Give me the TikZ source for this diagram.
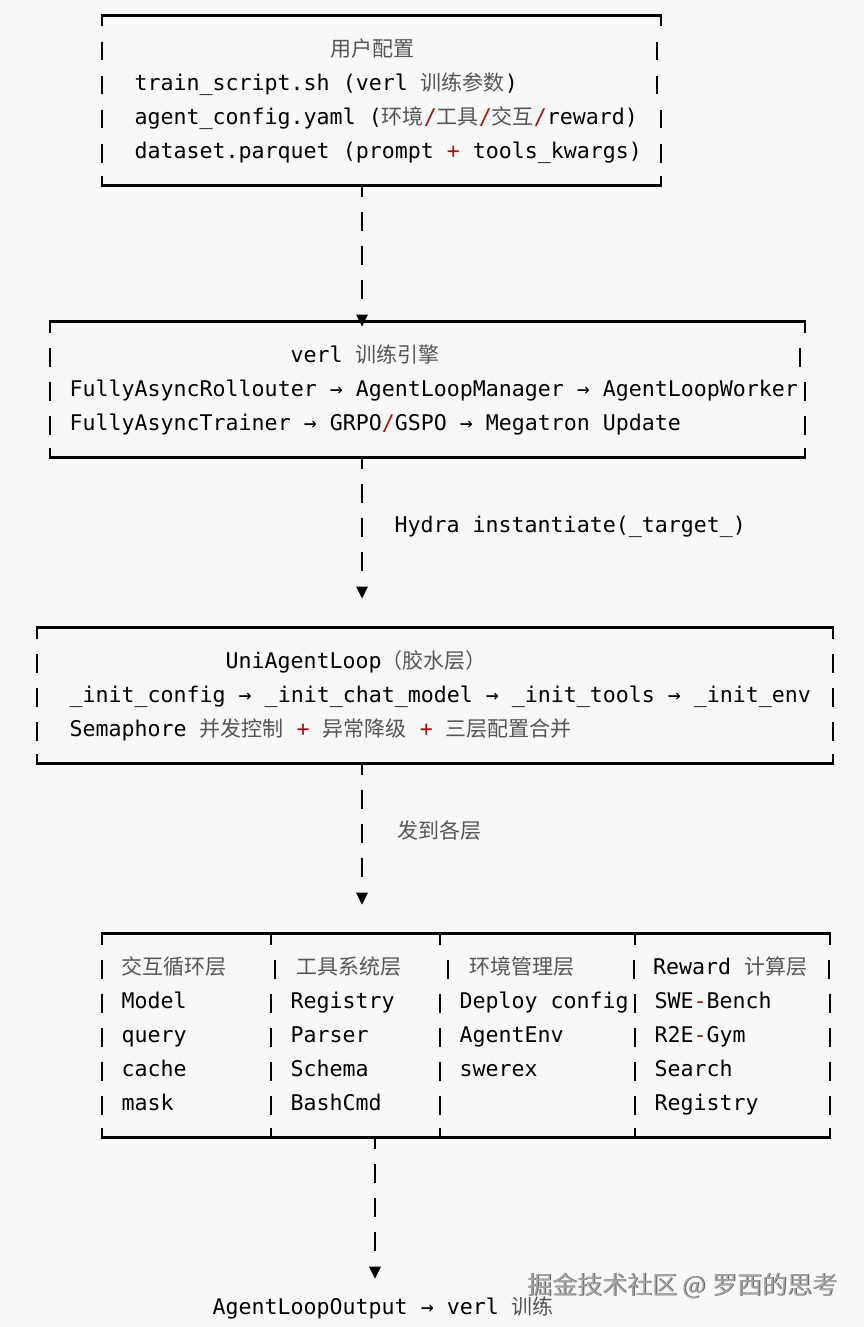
\documentclass[tikz,border=0pt]{standalone}
\usepackage{fontspec}
\setmonofont{DejaVu Sans Mono}
\newfontfamily\cjkf{Noto Sans CJK SC}
\definecolor{bgc}{HTML}{F8F8F8}
\definecolor{zhc}{HTML}{555555}
\definecolor{redc}{HTML}{A31515}
\definecolor{wmc}{HTML}{A6A6A6}
\definecolor{wmsh}{HTML}{5E5E5E}
\newcommand\zh[1]{{\cjkf\fontsize{21}{25}\selectfont\color{zhc}#1}}
\newcommand\rd[1]{{\color{redc}#1}}
\pgfmathdeclarefunction{lny}{1}{\pgfmathparse{15.5+34*#1}}
\pgfmathdeclarefunction{bsy}{1}{\pgfmathparse{22.5+34*#1}}
\tikzset{
  txt/.style={anchor=base west, inner sep=0pt, font=\ttfamily\fontsize{21.6}{26}\selectfont, text=black},
  bline/.style={line width=2.1pt, black, line join=miter},
  pipe/.style={line width=1.8pt, black},
  wmark/.style={anchor=base west, inner sep=0pt, font=\cjkf\fontsize{25}{28}\selectfont}
}
% frame: left x, right x, top row, bottom row
\newcommand\frm[4]{%
  \draw[bline] (#1,{lny(#3)+11}) -- (#1,{lny(#3)}) -- (#2,{lny(#3)}) -- (#2,{lny(#3)+11});
  \draw[bline] (#1,{lny(#4)-10}) -- (#1,{lny(#4)}) -- (#2,{lny(#4)}) -- (#2,{lny(#4)-10});
}
\newcommand\pp[2]{\draw[pipe] (#1,{bsy(#2)-14.5}) -- (#1,{bsy(#2)+4});}
\newcommand\stubdown[2]{\draw[pipe] (#1,{lny(#2)}) -- (#1,{lny(#2)+11});}
\newcommand\stubup[2]{\draw[pipe] (#1,{lny(#2)-10}) -- (#1,{lny(#2)});}
\newcommand\tri[3]{\fill[black] ({#2-6},{bsy(#3)-14}) coordinate (#1) -- ({#2+6},{bsy(#3)-14}) -- (#2,{bsy(#3)-2}) -- cycle;}
\newcommand\tx[4]{\node[txt] (#1) at (#2,{bsy(#3)}) {#4};}

\begin{document}
\begin{tikzpicture}[x=1pt,y=-1pt]
\fill[bgc] (0,0) rectangle (864,1327);
\useasboundingbox (0,0) rectangle (864,1327);

% ---------- Box 1 : user config ----------
\frm{102}{661}{0}{5}
\foreach \r/\xr in {1/657,2/657,3/661,4/661}{\pp{102}{\r}\pp{\xr}{\r}}
\tx{b1t}{330}{1}{\zh{用户配置}}
\tx{b1a}{134.5}{2}{train\_script.sh (verl \zh{训练参数})}
\tx{b1b}{134.5}{3}{agent\_config.yaml (\zh{环境}\rd{/}\zh{工具}\rd{/}\zh{交互}\rd{/}reward)}
\tx{b1c}{134.5}{4}{dataset.parquet (prompt \rd{+} tools\_kwargs)}

% arrow 1
\stubdown{362}{5}
\foreach \r in {6,7,8}{\pp{362}{\r}}

% ---------- Box 2 : verl ----------
\frm{50}{805}{9}{13}
\tri{a1}{362}{9}
\foreach \r/\xr in {10/800,11/805,12/805}{\pp{50}{\r}\pp{\xr}{\r}}
\tx{b2t}{290.5}{10}{verl \zh{训练引擎}}
\tx{b2a}{69.5}{11}{FullyAsyncRollouter → AgentLoopManager → AgentLoopWorker}
\tx{b2b}{69.5}{12}{FullyAsyncTrainer → GRPO\rd{/}GSPO → Megatron Update}

% arrow 2
\stubdown{362}{13}
\foreach \r in {14,15,16}{\pp{362}{\r}}
\tri{a2}{362}{17}
\tx{l2}{394.5}{15}{Hydra instantiate(\_target\_)}

% ---------- Box 3 : UniAgentLoop ----------
\frm{37}{833}{18}{22}
\foreach \r in {19,20,21}{\pp{37}{\r}\pp{833}{\r}}
\tx{b3t}{225.5}{19}{UniAgentLoop\zh{（胶水层）}}
\tx{b3a}{69.5}{20}{\_init\_config → \_init\_chat\_model → \_init\_tools → \_init\_env}
\tx{b3b}{69.5}{21}{Semaphore \zh{并发控制} \rd{+} \zh{异常降级} \rd{+} \zh{三层配置合并}}

% arrow 3
\stubdown{362}{22}
\foreach \r in {23,24,25}{\pp{362}{\r}}
\tri{a3}{362}{26}
\tx{l3}{397}{24}{\zh{发到各层}}

% ---------- Box 4 : layers ----------
\frm{102}{830}{27}{33}
\foreach \xs in {271,440,635}{\stubdown{\xs}{27}\stubup{\xs}{33}}
\foreach \xs in {102,275,448,634,829}{\pp{\xs}{28}}
\foreach \r in {29,30,31,32}{\foreach \xs in {102,271,440,635,830}{\pp{\xs}{\r}}}
\tx{h1}{121.5}{28}{\zh{交互循环层}}
\tx{h2}{296}{28}{\zh{工具系统层}}
\tx{h3}{469}{28}{\zh{环境管理层}}
\tx{h4}{653}{28}{Reward \zh{计算层}}
\tx{c11}{121.5}{29}{Model}
\tx{c12}{121.5}{30}{query}
\tx{c13}{121.5}{31}{cache}
\tx{c14}{121.5}{32}{mask}
\tx{c21}{290.5}{29}{Registry}
\tx{c22}{290.5}{30}{Parser}
\tx{c23}{290.5}{31}{Schema}
\tx{c24}{290.5}{32}{BashCmd}
\tx{c31}{459.5}{29}{Deploy config}
\tx{c32}{459.5}{30}{AgentEnv}
\tx{c33}{459.5}{31}{swerex}
\tx{c41}{654.5}{29}{SWE\rd{-}Bench}
\tx{c42}{654.5}{30}{R2E\rd{-}Gym}
\tx{c43}{654.5}{31}{Search}
\tx{c44}{654.5}{32}{Registry}

% arrow 4
\stubdown{375}{33}
\foreach \r in {34,35,36}{\pp{375}{\r}}
\tri{a4}{375}{37}
\tx{out}{212.5}{38}{AgentLoopOutput → verl \zh{训练}}

% watermark
\node[wmark, text=wmsh] (wms) at (528,1294.8) {掘金技术社区 @ 罗西的思考};
\node[wmark, text=wmc] (wm) at (527,1294) {掘金技术社区 @ 罗西的思考};
\end{tikzpicture}
\end{document}
